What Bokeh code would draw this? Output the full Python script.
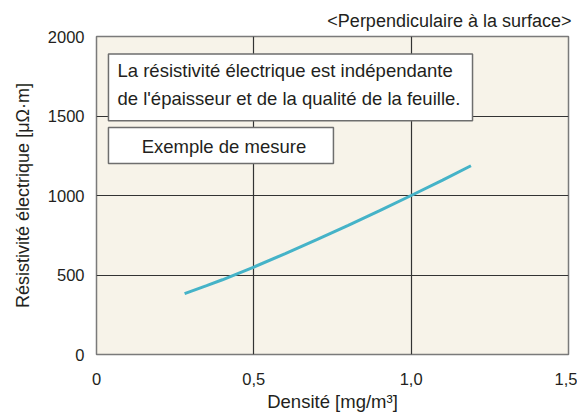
from bokeh.plotting import figure
from bokeh.models import Range1d, FixedTicker, Label
from bokeh.embed import file_html
from bokeh.resources import INLINE

# Data
density = [0.28, 0.35, 0.40, 0.50, 0.60, 0.70, 0.80, 0.90, 1.00, 1.10, 1.19]
resistivity = [383, 433, 470, 550, 635, 722, 812, 905, 1000, 1097, 1187]
x_ticks = [0, 0.5, 1.0, 1.5]
x_tick_labels = ["0", "0,5", "1,0", "1,5"]
y_ticks = [0, 500, 1000, 1500, 2000]
y_tick_labels = ["0", "500", "1000", "1500", "2000"]
title_text = "<Perpendiculaire à la surface>"
note_text = "La résistivité électrique est indépendante\nde l'épaisseur et de la qualité de la feuille."
example_text = "Exemple de mesure"
x_label = "Densité [mg/m³]"
y_label = "Résistivité électrique [μΩ·m]"

FONT = "Liberation Sans"
TXT = "#231f20"

p = figure(width=577, height=414, output_backend="svg", toolbar_location=None,
           x_range=Range1d(0, 1.5), y_range=Range1d(0, 2000),
           min_border_left=96, min_border_right=9, min_border_top=36, min_border_bottom=57,
           title=title_text)
p.title.align = "right"
p.title.text_font = FONT
p.title.text_font_size = "18px"
p.title.text_font_style = "normal"
p.title.text_color = TXT
p.title.standoff = 7
p.title.offset = -3
p.title.vertical_align = "top"

p.background_fill_color = "#f7f3e9"
p.border_fill_color = "white"
p.outline_line_color = "#7a7a7a"
p.outline_line_width = 1.5

p.xgrid.ticker = FixedTicker(ticks=[t for t in x_ticks if 0 < t < 1.5])
p.ygrid.ticker = FixedTicker(ticks=[t for t in y_ticks if 0 < t < 2000])
for g in (p.xgrid, p.ygrid):
    g.grid_line_color = "#333333"
    g.grid_line_width = 1.2

p.xaxis.ticker = FixedTicker(ticks=x_ticks)
p.yaxis.ticker = FixedTicker(ticks=y_ticks)
p.xaxis.major_label_overrides = dict(zip(x_ticks, x_tick_labels))
p.yaxis.major_label_overrides = dict(zip(y_ticks, y_tick_labels))
for ax in (p.xaxis, p.yaxis):
    ax.axis_line_color = None
    ax.major_tick_line_color = None
    ax.minor_tick_line_color = None
    ax.major_label_text_font = FONT
    ax.major_label_text_font_size = "16.5px"
    ax.major_label_text_color = TXT
    ax.axis_label_text_font = FONT
    ax.axis_label_text_font_style = "normal"
    ax.axis_label_text_color = TXT
    ax.axis_label_text_font_size = "18.5px"
p.xaxis.axis_label = x_label
p.yaxis.axis_label = y_label
p.yaxis.axis_label_text_font_size = "18px"
p.xaxis.major_label_standoff = 12
p.xaxis.axis_label_standoff = 3
p.yaxis.major_label_standoff = 6
p.yaxis.axis_label_standoff = 12

# Curve
p.line(density, resistivity, line_color="#45b3c8", line_width=3)

# Text boxes
p.quad(left=0.038, right=1.195, bottom=1470, top=1890, fill_color="white",
       line_color="#6e6e6e", line_width=1.5)
p.quad(left=0.038, right=0.753, bottom=1202, top=1427, fill_color="white",
       line_color="#6e6e6e", line_width=1.5)

p.add_layout(Label(x=0.0667, y=1698, text=note_text, text_font=FONT, text_font_size="18.5px",
                   text_color=TXT, text_baseline="middle", text_line_height=1.35))
p.add_layout(Label(x=0.405, y=1308, text=example_text, text_font=FONT, text_font_size="18.5px",
                   text_color=TXT, text_baseline="middle", text_align="center"))

open("out.html", "w").write(file_html(p, INLINE))
